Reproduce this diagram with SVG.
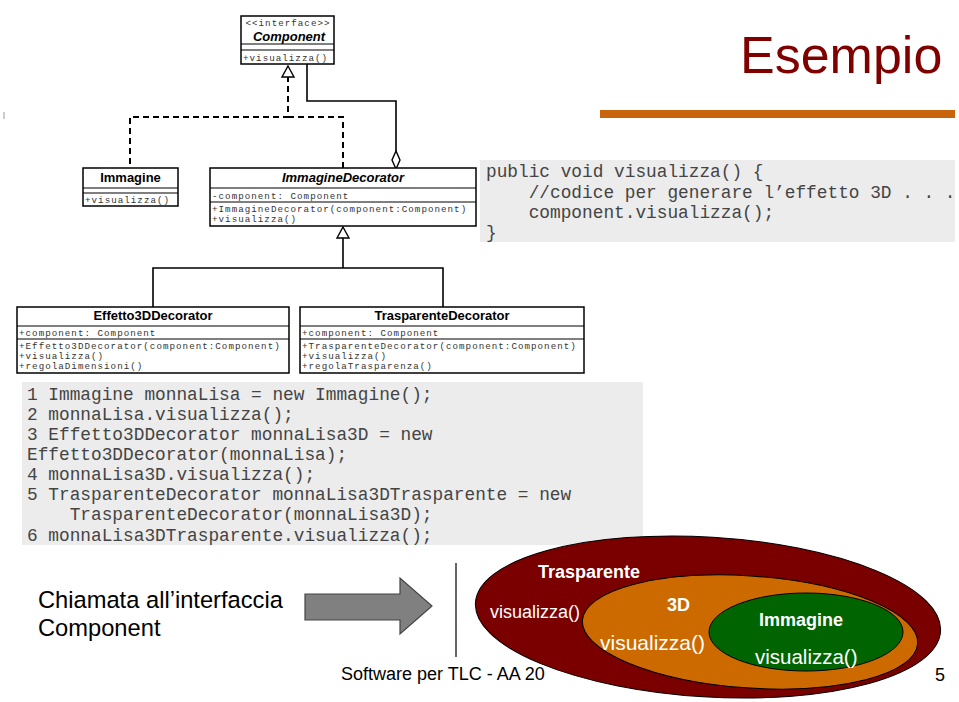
<svg xmlns="http://www.w3.org/2000/svg" width="959" height="702" viewBox="0 0 959 702">
<style>
.box{fill:#fff;stroke:#000;stroke-width:1.5}
.sep{stroke:#000;stroke-width:1.2}
.mono{font-family:"Liberation Mono","Courier New",monospace;font-size:9.2px;letter-spacing:1.03px;fill:#333}
.ttl{font-family:"Liberation Sans",Arial,sans-serif;font-size:13px;font-weight:bold;fill:#000;text-anchor:middle}
.it{font-style:italic}
.code{font-family:"Liberation Mono","Courier New",monospace;font-size:17.8px;fill:#444;white-space:pre}
.sans{font-family:"Liberation Sans",Arial,sans-serif}
.w{fill:#fff}
.ln{fill:none;stroke:#000;stroke-width:1.6}
.dash{fill:none;stroke:#000;stroke-width:2;stroke-dasharray:6 4}
</style>
<rect width="959" height="702" fill="#fff"/>
<g id="title">
<text x="740" y="73" class="sans" font-size="52" fill="#800000">Esempio</text>
<rect x="600" y="110" width="355" height="8" fill="#c8650c"/>
<line x1="4" y1="112" x2="4" y2="119" stroke="#999" stroke-width="1"/>
</g>
<g id="connectors">
<polyline class="dash" points="288,76 288,117 130,117 130,168"/>
<polyline class="dash" points="288,117 343,117 343,168"/>
<polyline class="ln" points="307,64 307,101 396,101 396,151"/>
<polygon points="396,151 400,160 396,169 392,160" fill="#fff" stroke="#000" stroke-width="1.4"/>
<polygon points="288,66 294,77 282,77" fill="#fff" stroke="#000" stroke-width="1.4"/>
<polyline class="ln" points="343,237 343,268"/>
<polyline class="ln" points="153,307 153,268 443,268 443,307"/>
<polygon points="343,227 349,238 337,238" fill="#fff" stroke="#000" stroke-width="1.4"/>
</g>
<g id="component">
<rect class="box" x="241" y="16" width="93" height="48"/>
<text x="288" y="25.5" class="mono" text-anchor="middle">&lt;&lt;interface&gt;&gt;</text>
<text x="289" y="40.5" class="ttl it">Component</text>
<line class="sep" x1="241" y1="44" x2="334" y2="44"/>
<line class="sep" x1="241" y1="50" x2="334" y2="50"/>
<text x="243" y="61" class="mono">+visualizza()</text>
</g>
<g id="immagine">
<rect class="box" x="83" y="168" width="95" height="38"/>
<text x="130.5" y="182" class="ttl">Immagine</text>
<line class="sep" x1="83" y1="188" x2="178" y2="188"/>
<line class="sep" x1="83" y1="193" x2="178" y2="193"/>
<text x="85" y="203" class="mono">+visualizza()</text>
</g>
<g id="immagineDecorator">
<rect class="box" x="210" y="168" width="266" height="58"/>
<text x="343" y="182" class="ttl it">ImmagineDecorator</text>
<line class="sep" x1="210" y1="188" x2="476" y2="188"/>
<text x="212" y="199" class="mono">-component: Component</text>
<line class="sep" x1="210" y1="202" x2="476" y2="202"/>
<text x="212" y="212" class="mono">+ImmagineDecorator(component:Component)</text>
<text x="212" y="222" class="mono">+visualizza()</text>
</g>
<g id="effetto3D">
<rect class="box" x="17" y="307" width="272" height="66"/>
<text x="153" y="320" class="ttl">Effetto3DDecorator</text>
<line class="sep" x1="17" y1="326" x2="289" y2="326"/>
<text x="19" y="336" class="mono">+component: Component</text>
<line class="sep" x1="17" y1="339" x2="289" y2="339"/>
<text x="19" y="349" class="mono">+Effetto3DDecorator(component:Component)</text>
<text x="19" y="359" class="mono">+visualizza()</text>
<text x="19" y="369" class="mono">+regolaDimensioni()</text>
</g>
<g id="trasparente">
<rect class="box" x="300" y="307" width="284" height="66"/>
<text x="442" y="320" class="ttl">TrasparenteDecorator</text>
<line class="sep" x1="300" y1="326" x2="584" y2="326"/>
<text x="302" y="336" class="mono">+component: Component</text>
<line class="sep" x1="300" y1="339" x2="584" y2="339"/>
<text x="302" y="349" class="mono">+TrasparenteDecorator(component:Component)</text>
<text x="302" y="359" class="mono">+visualizza()</text>
<text x="302" y="369" class="mono">+regolaTrasparenza()</text>
</g>
<g id="code1">
<rect x="480" y="160" width="475" height="82" fill="#ececec"/>
<text x="486" y="177" class="code">public void visualizza() {</text>
<text x="486" y="198" class="code">    //codice per generare l’effetto 3D . . .</text>
<text x="486" y="218" class="code">    component.visualizza();</text>
<text x="486" y="238" class="code">}</text>
</g>
<g id="code2">
<rect x="22" y="382" width="621" height="163" fill="#ececec"/>
<text x="27" y="400" class="code">1 Immagine monnaLisa = new Immagine();</text>
<text x="27" y="420" class="code">2 monnaLisa.visualizza();</text>
<text x="27" y="440" class="code">3 Effetto3DDecorator monnaLisa3D = new</text>
<text x="27" y="460" class="code">Effetto3DDecorator(monnaLisa);</text>
<text x="27" y="480" class="code">4 monnaLisa3D.visualizza();</text>
<text x="27" y="500" class="code">5 TrasparenteDecorator monnaLisa3DTrasparente = new</text>
<text x="27" y="520" class="code">    TrasparenteDecorator(monnaLisa3D);</text>
<text x="27" y="541" class="code">6 monnaLisa3DTrasparente.visualizza();</text>
</g>
<g id="caption">
<text x="38" y="608" class="sans" font-size="23.7" fill="#000">Chiamata all’interfaccia</text>
<text x="38" y="636" class="sans" font-size="23.7" fill="#000">Component</text>
</g>
<g id="arrow">
<polygon points="305,594 400,594 400,578 432,606 400,634 400,620 305,620" fill="#808080" stroke="#444" stroke-width="1.2"/>
</g>
<g id="footer">
<line x1="456" y1="563" x2="456" y2="657" stroke="#000" stroke-width="1.2"/>
<text x="341" y="680" class="sans" font-size="18" fill="#000">Software per TLC - AA 20</text>
<text x="935" y="681" class="sans" font-size="18" fill="#000">5</text>
</g>
<g id="trasparenteEllipse">
<ellipse cx="708" cy="617" rx="233" ry="80" transform="rotate(3.5 708 617)" fill="#7a0000" stroke="#000" stroke-width="1"/>
<text x="538" y="578" class="sans w" font-size="18" font-weight="bold">Trasparente</text>
<text x="490" y="618" class="sans w" font-size="18">visualizza()</text>
</g>
<g id="ellipse3D">
<ellipse cx="750" cy="632" rx="168" ry="56" transform="rotate(4 750 632)" fill="#cc6a00" stroke="#000" stroke-width="1"/>
<text x="667" y="611" class="sans w" font-size="18" font-weight="bold">3D</text>
<text x="600" y="650" class="sans w" font-size="21">visualizza()</text>
</g>
<g id="immagineEllipse">
<ellipse cx="806" cy="632" rx="97" ry="39" fill="#006400" stroke="#000" stroke-width="1"/>
<text x="759" y="626" class="sans w" font-size="18" font-weight="bold">Immagine</text>
<text x="755" y="664" class="sans w" font-size="20.5">visualizza()</text>
</g>
</svg>
